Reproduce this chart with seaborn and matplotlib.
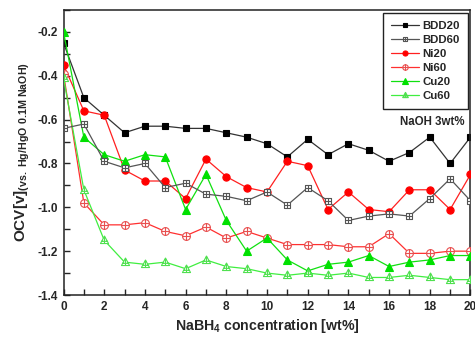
import numpy as np
import pandas as pd
import matplotlib
matplotlib.use("Agg")
import matplotlib.pyplot as plt
from matplotlib.path import Path
from matplotlib.ticker import MultipleLocator
import seaborn as sns

# ---- data ----
conc = list(range(0, 21))
bdd20 = [-0.25, -0.50, -0.58, -0.66, -0.63, -0.63, -0.64, -0.64, -0.66, -0.68, -0.71,
         -0.77, -0.69, -0.76, -0.71, -0.74, -0.79, -0.75, -0.68, -0.80, -0.68]
bdd60 = [-0.64, -0.62, -0.79, -0.82, -0.80, -0.91, -0.89, -0.94, -0.95, -0.97, -0.93,
         -0.99, -0.91, -0.97, -1.06, -1.04, -1.03, -1.04, -0.96, -0.87, -0.97]
ni20 = [-0.35, -0.56, -0.58, -0.83, -0.88, -0.88, -0.96, -0.78, -0.86, -0.91, -0.93,
        -0.79, -0.81, -1.01, -0.93, -1.01, -1.02, -0.92, -0.92, -1.01, -0.85]
ni60 = [-0.39, -0.98, -1.08, -1.08, -1.07, -1.11, -1.13, -1.09, -1.14, -1.11, -1.14,
        -1.17, -1.17, -1.17, -1.18, -1.18, -1.12, -1.21, -1.21, -1.20, -1.20]
cu20 = [-0.20, -0.68, -0.76, -0.79, -0.76, -0.77, -1.01, -0.85, -1.06, -1.20, -1.14,
        -1.24, -1.29, -1.26, -1.25, -1.22, -1.27, -1.25, -1.24, -1.22, -1.22]
cu60 = [-0.41, -0.92, -1.15, -1.25, -1.26, -1.25, -1.28, -1.24, -1.27, -1.28, -1.30,
        -1.31, -1.30, -1.31, -1.30, -1.32, -1.32, -1.31, -1.32, -1.33, -1.33]
labels = ["BDD20", "BDD60", "Ni20", "Ni60", "Cu20", "Cu60"]
x_ticks = [0, 2, 4, 6, 8, 10, 12, 14, 16, 18, 20]
y_ticks = [-1.4, -1.2, -1.0, -0.8, -0.6, -0.4, -0.2]

# ---- style ----
sns.set_style("ticks")
plt.rcParams["font.family"] = ["Liberation Sans", "DejaVu Sans"]
plt.rcParams["font.weight"] = "bold"
plt.rcParams["mathtext.fontset"] = "custom"
plt.rcParams["mathtext.rm"] = "Liberation Sans:bold"
plt.rcParams["mathtext.it"] = "Liberation Sans:bold"
plt.rcParams["mathtext.bf"] = "Liberation Sans:bold"


def crossed(base):
    cross = Path([(-1, 0), (1, 0), (0, -1), (0, 1)],
                 [Path.MOVETO, Path.LINETO, Path.MOVETO, Path.LINETO])
    return Path.make_compound_path(base, cross)


sq = Path([(-1, -1), (1, -1), (1, 1), (-1, 1), (-1, -1)],
          [Path.MOVETO, Path.LINETO, Path.LINETO, Path.LINETO, Path.CLOSEPOLY])
circ = Path.unit_circle()
tri = Path([(0, 1.1), (-1.0, -0.75), (1.0, -0.75), (0, 1.1)],
           [Path.MOVETO, Path.LINETO, Path.LINETO, Path.CLOSEPOLY])
tri_cross = Path.make_compound_path(
    tri, Path([(-0.75, -0.2), (0.75, -0.2), (0, -0.75), (0, 1.1)],
              [Path.MOVETO, Path.LINETO, Path.MOVETO, Path.LINETO]))

series = [
    (bdd20, "#333333", "s", "black", "black", 4.2, 2),
    (bdd60, "#555555", crossed(sq), "white", "#555555", 5.0, 4),
    (ni20, "#ff2020", "o", "#ff0000", "#ff0000", 5.2, 3),
    (ni60, "#ff3030", crossed(circ), "white", "#e85050", 5.6, 3),
    (cu20, "#10e010", "^", "#00e000", "#00e000", 5.6, 3),
    (cu60, "#40ee40", tri_cross, "white", "#50e050", 6.4, 3),
]

fig = plt.figure(figsize=(4.75, 3.38), dpi=100)
ax = fig.add_axes([0.1337, 0.1272, 0.9905 - 0.1337, 0.9704 - 0.1272])

for vals, (data, lc, mk, mfc, mec, ms, z) in zip(labels, series):
    df = pd.DataFrame({"x": conc, "y": data})
    sns.lineplot(data=df, x="x", y="y", ax=ax, color=lc, linewidth=0.9,
                 marker=mk, markerfacecolor=mfc, markeredgecolor=mec,
                 markersize=ms, markeredgewidth=0.8, label=vals, zorder=z)

ax.set_xlim(0, 20)
ax.set_ylim(-1.4, -0.1)
ax.set_xticks(x_ticks)
ax.set_yticks(y_ticks)
ax.set_yticklabels([f"{v:.1f}" for v in y_ticks])
ax.xaxis.set_minor_locator(MultipleLocator(1))
ax.yaxis.set_minor_locator(MultipleLocator(0.1))
ax.tick_params(which="major", direction="in", length=4, width=1.0,
               labelsize=8.5, pad=4)
ax.tick_params(which="minor", direction="in", length=4, width=1.0)
for lab in ax.get_xticklabels() + ax.get_yticklabels():
    lab.set_fontweight("bold")
for sp in ax.spines.values():
    sp.set_visible(True)
    sp.set_linewidth(1.1)
    sp.set_color("#222222")

ax.set_xlabel(r"NaBH$_4$ concentration [wt%]", fontsize=10.2,
              fontweight="bold", labelpad=3)
ax.set_ylabel(r"OCV[v]$_{\mathrm{(vs.\ Hg/HgO\ 0.1M\ NaOH)}}$", fontsize=11,
              fontweight="bold", labelpad=4)

leg = ax.legend(loc="upper right", fontsize=8.2, frameon=True, fancybox=False,
                edgecolor="#222222", framealpha=1, handlelength=2.4,
                labelspacing=0.36, borderaxespad=0.25, borderpad=0.7,
                markerscale=0.7, handletextpad=0.3)
leg.get_frame().set_linewidth(1.0)
for t in leg.get_texts():
    t.set_fontweight("bold")

ax.text(0.907, 0.608, "NaOH 3wt%", transform=ax.transAxes, ha="center",
        va="center", fontsize=8.3, fontweight="bold")

fig.savefig("out.png", dpi=100)
